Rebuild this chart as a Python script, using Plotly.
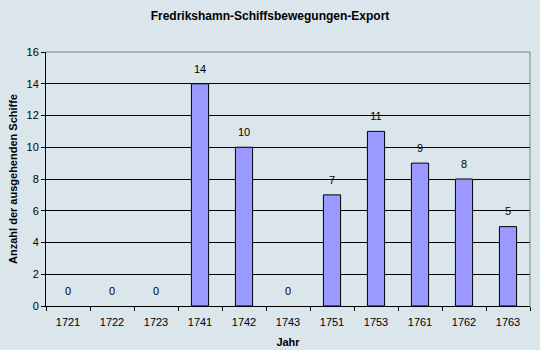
import plotly.graph_objects as go

years = ["1721", "1722", "1723", "1741", "1742", "1743", "1751", "1753", "1761", "1762", "1763"]
ships = [0, 0, 0, 14, 10, 0, 7, 11, 9, 8, 5]

bg = "#dbe5ec"
fig = go.Figure()
fig.add_trace(go.Bar(
    x=years, y=ships,
    marker=dict(color="#9999ff",
                line=dict(color="black", width=[1 if v else 0 for v in ships])),
    width=0.39, hoverinfo="skip",
))
fig.add_trace(go.Scatter(
    x=years, y=ships, mode="markers+text", text=[str(v) for v in ships],
    marker=dict(size=12, opacity=0),
    textposition="top center", textfont=dict(family="Liberation Sans, Arial", size=11, color="black"),
    cliponaxis=False, hoverinfo="skip",
))
fig.update_layout(
    width=540, height=350,
    margin=dict(l=46, r=10, t=52, b=44),
    paper_bgcolor=bg, plot_bgcolor=bg,
    showlegend=False,
    title=dict(text="<b>Fredrikshamn-Schiffsbewegungen-Export</b>", x=0.5, xanchor="center",
               y=1 - 16/350, yanchor="middle",
               font=dict(family="Liberation Sans, Arial", size=12, color="black")),
    font=dict(family="Liberation Sans, Arial", size=11, color="black"),
)
fig.update_xaxes(
    type="category", range=[-0.5, len(years) - 0.5],
    tickson="boundaries", ticks="outside", ticklen=4, tickcolor="black",
    showline=True, linecolor="black", linewidth=1, mirror=False, automargin=False,
    showgrid=False, ticklabelstandoff=6,
    title=dict(text="<b>Jahr</b>", font=dict(size=11), standoff=11),
    tickfont=dict(size=11),
)
fig.update_yaxes(
    range=[0, 16], dtick=2, ticks="outside", ticklen=4, tickcolor="black",
    showline=True, linecolor="black", linewidth=1, automargin=False,
    showgrid=True, gridcolor="black", gridwidth=1, zeroline=False,
    title=dict(text="<b>Anzahl der ausgehenden Schiffe</b>", font=dict(size=11), standoff=6),
    tickfont=dict(size=11),
)
fig.add_shape(type="line", xref="paper", yref="paper", x0=0, x1=1, y0=1, y1=1, line=dict(color="#808080", width=1))
fig.add_shape(type="line", xref="paper", yref="paper", x0=1, x1=1, y0=0, y1=1, line=dict(color="#808080", width=1))
fig.write_html("out.html")
